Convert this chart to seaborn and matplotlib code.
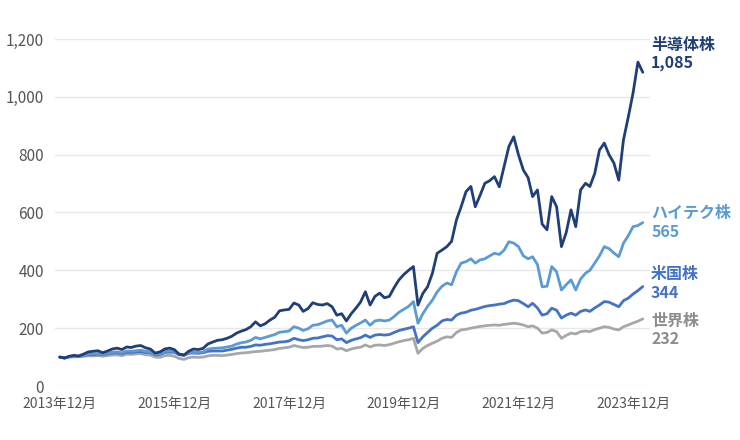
import matplotlib
matplotlib.use("Agg")
import matplotlib.pyplot as plt
import matplotlib.dates as mdates
from matplotlib.ticker import FuncFormatter
import numpy as np
import pandas as pd
import seaborn as sns

# ---------------- data (monthly, 2013-12 .. 2024-02, 2013-12 = 100) ----------------
start_month = "2013-12-01"

semi = [100, 97, 103, 106, 104, 110, 118, 120, 122, 115, 121, 128,
        131, 126, 135, 133, 138, 140, 132, 128, 114, 118, 128, 131,
        126, 110, 107, 120, 128, 126, 130, 145, 152, 158, 160, 165,
        172, 183, 190, 195, 205, 222, 208, 215, 228, 238, 260, 263,
        265, 287, 280, 258, 268, 288, 282, 280, 285, 274, 245, 250,
        225, 250, 270, 290, 326, 280, 310, 321, 305, 310, 340, 367,
        385, 400, 413, 280, 320, 343, 390, 459, 470, 482, 500, 574,
        620, 672, 690, 620, 660, 701, 710, 724, 689, 760, 828, 862,
        800, 747, 720, 655, 678, 560, 540, 655, 620, 482, 530, 609,
        551, 678, 701, 690, 735, 816, 840, 800, 771, 712, 851, 931,
        1013, 1120, 1085]

hitech = [100, 97, 101, 103, 102, 106, 110, 111, 112, 110, 113, 117,
          118, 115, 121, 120, 122, 124, 120, 119, 110, 112, 120, 121,
          120, 110, 108, 115, 117, 116, 118, 127, 130, 131, 132, 135,
          138, 145, 150, 152, 158, 168, 163, 168, 173, 178, 186, 188,
          190, 205, 200, 192, 198, 210, 212, 218, 225, 228, 205, 210,
          183, 200, 210, 218, 228, 210, 225, 228, 225, 228, 240, 255,
          265, 275, 292, 217, 250, 275, 297, 325, 345, 356, 350, 395,
          425, 430, 440, 425, 436, 440, 450, 459, 455, 470, 499, 494,
          482, 450, 440, 447, 420, 343, 345, 413, 395, 332, 350, 367,
          332, 370, 390, 400, 425, 450, 482, 475, 460, 447, 494, 520,
          551, 555, 565]

us = [100, 97, 101, 102, 102, 105, 108, 108, 110, 108, 111, 114,
      115, 112, 117, 116, 118, 119, 116, 116, 108, 109, 116, 117,
      116, 108, 106, 113, 114, 113, 115, 120, 121, 121, 121, 124,
      127, 131, 134, 134, 137, 142, 141, 144, 146, 149, 152, 153,
      156, 165, 160, 157, 160, 165, 166, 170, 174, 173, 160, 163,
      150, 158, 163, 167, 176, 168, 176, 178, 176, 178, 185, 192,
      196, 200, 205, 150, 170, 185, 200, 210, 225, 230, 228, 245,
      252, 255, 262, 265, 270, 275, 278, 280, 283, 285, 292, 297,
      295, 285, 274, 286, 270, 245, 250, 269, 262, 235, 245, 252,
      245, 258, 263, 258, 270, 280, 292, 290, 282, 274, 295, 304,
      318, 330, 344]

world = [100, 96, 100, 101, 101, 103, 105, 104, 105, 103, 105, 107,
         108, 105, 110, 109, 111, 112, 108, 107, 100, 99, 105, 106,
         103, 95, 92, 98, 100, 99, 100, 104, 106, 106, 105, 107,
         109, 112, 114, 115, 117, 119, 120, 122, 124, 126, 130, 132,
         134, 140, 136, 133, 134, 137, 137, 138, 140, 138, 128, 130,
         122, 128, 132, 134, 142, 135, 141, 142, 140, 143, 148, 153,
         157, 160, 165, 113, 130, 140, 148, 155, 165, 170, 168, 185,
         194, 196, 200, 203, 206, 208, 210, 211, 210, 213, 215, 217,
         215, 211, 205, 208, 200, 183, 185, 194, 188, 165, 175, 183,
         180, 188, 190, 188, 195, 200, 205, 203, 197, 194, 205, 211,
         218, 224, 232]

series_names = ["世界株", "米国株", "ハイテク株", "半導体株"]
series_values = [world, us, hitech, semi]
end_labels = ["232", "344", "565", "1,085"]

y_ticks = [0, 200, 400, 600, 800, 1000, 1200]
x_tick_dates = ["2013-12-01", "2015-12-01", "2017-12-01",
                "2019-12-01", "2021-12-01", "2023-12-01"]
x_tick_labels = ["2013年12月", "2015年12月", "2017年12月",
                 "2019年12月", "2021年12月", "2023年12月"]

# ---------------- styling ----------------
line_colors = {"世界株": "#a7a7a7", "米国株": "#4472c4",
               "ハイテク株": "#5b9bd5", "半導体株": "#203f78"}
text_colors = {"世界株": "#8c8c8c", "米国株": "#4472c4",
               "ハイテク株": "#5b9bd5", "半導体株": "#203f78"}
# label vertical positions (data units) for name / value text
label_pos = {"半導体株": (1180, 1117), "ハイテク株": (598, 532),
             "米国株": (388, 322), "世界株": (225, 163)}

sns.set_theme(style="white")
plt.rcParams["font.family"] = ["Noto Sans CJK JP", "DejaVu Sans"]

dates = pd.date_range(start_month, periods=len(semi), freq="MS")
frames = []
for name, vals in zip(series_names, series_values):
    frames.append(pd.DataFrame({"date": dates, "value": vals, "series": name}))
df = pd.concat(frames, ignore_index=True)

fig = plt.figure(figsize=(7.4, 4.4), dpi=100)
ax = fig.add_axes([55 / 740, 1 - 386 / 440, (650 - 55) / 740, (386 - 39) / 440])

sns.lineplot(data=df, x="date", y="value", hue="series", hue_order=series_names,
             palette=line_colors, linewidth=2.0, legend=False, ax=ax)

ax.set_ylim(0, 1200)
ax.set_xlim(pd.Timestamp("2013-11-01"), pd.Timestamp("2024-03-18"))
ax.set_yticks(y_ticks)
ax.yaxis.set_major_formatter(FuncFormatter(lambda v, p: f"{int(v):,}"))
ax.set_xticks([pd.Timestamp(d) for d in x_tick_dates])
ax.set_xticklabels(x_tick_labels)
ax.grid(axis="y", color="#e8e8e8", linewidth=1.0)
ax.grid(axis="x", visible=False)
for s in ax.spines.values():
    s.set_visible(False)
ax.tick_params(axis="y", length=0, pad=8, labelsize=11, labelcolor="#555555")
ax.tick_params(axis="x", length=0, pad=8, labelsize=10, labelcolor="#555555")
ax.set_xlabel("")
ax.set_ylabel("")
ax.set_clip_on(False)

x_text = pd.Timestamp("2024-03-25")
for name, lab in zip(series_names, end_labels):
    yn, yv = label_pos[name]
    ax.text(x_text, yn, name, color=text_colors[name], fontsize=11.5,
            fontweight="bold", va="center", ha="left", clip_on=False)
    ax.text(x_text, yv, lab, color=text_colors[name], fontsize=11.5,
            fontweight="bold", va="center", ha="left", clip_on=False)

fig.savefig("out.png", dpi=100)
